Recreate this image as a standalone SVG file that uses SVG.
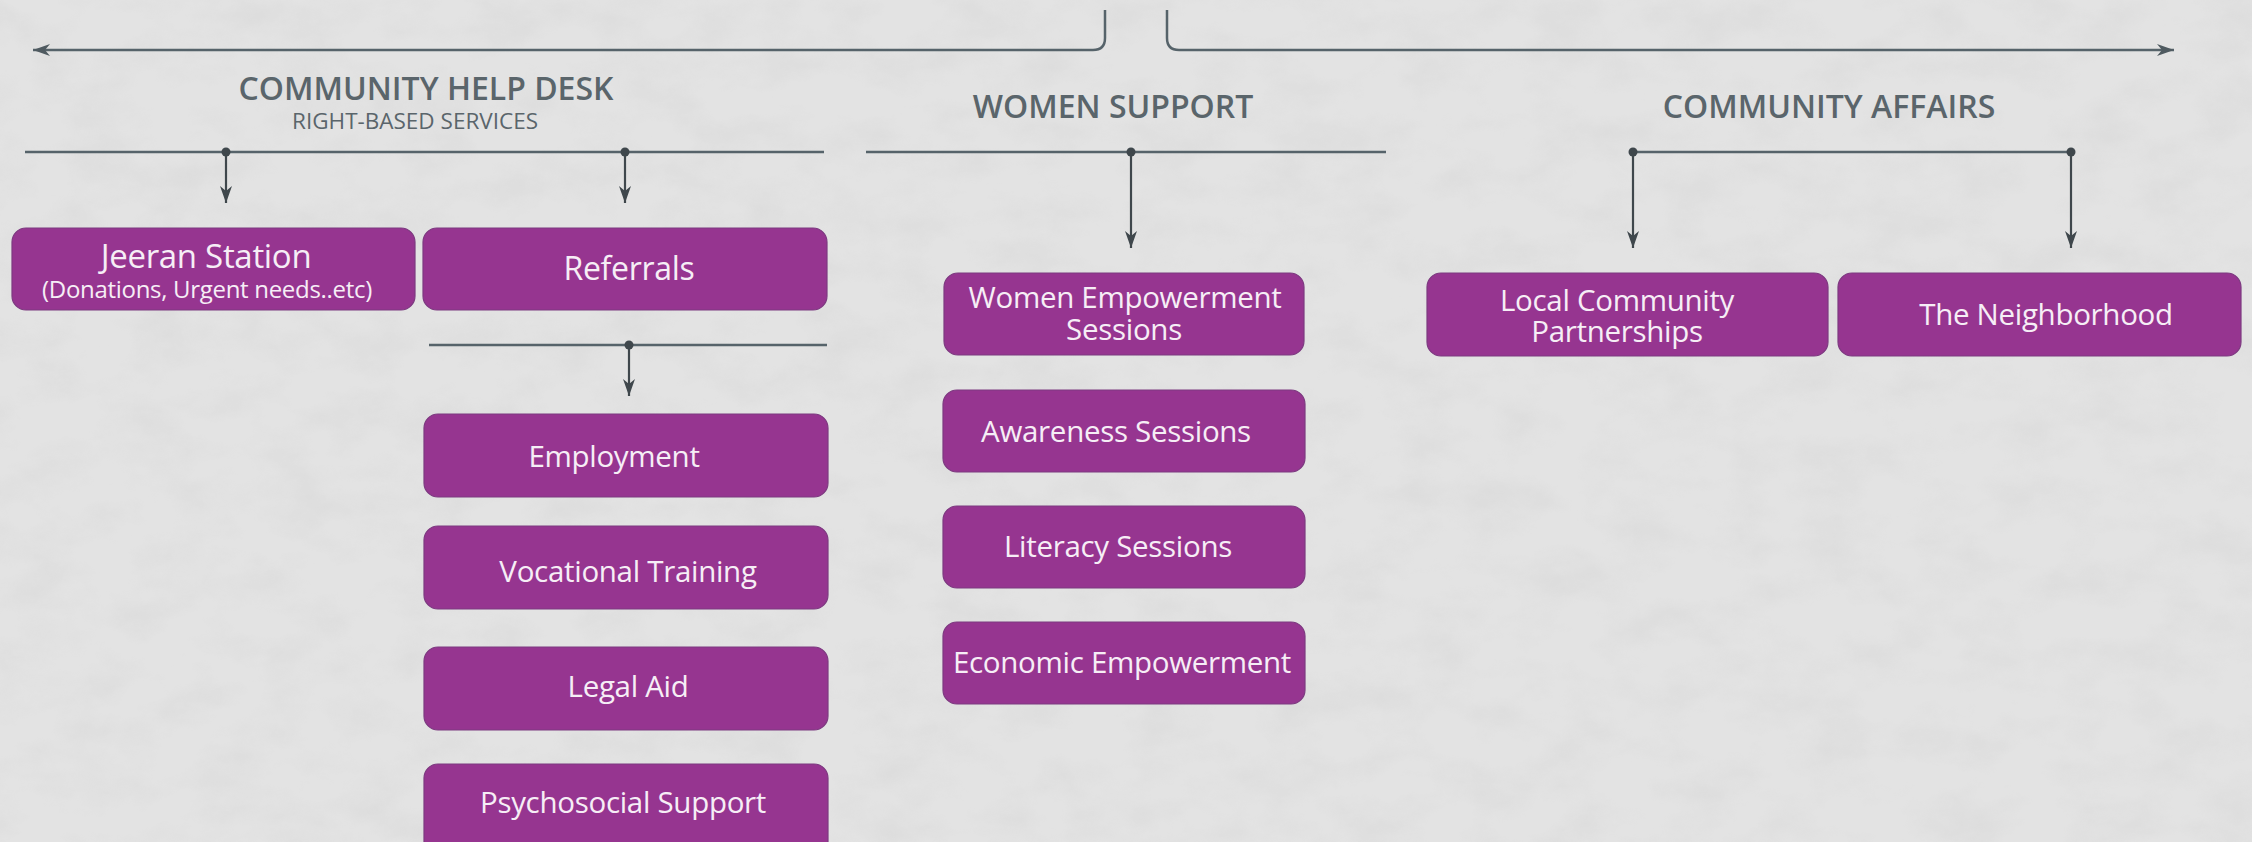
<svg xmlns="http://www.w3.org/2000/svg" width="2252" height="842" viewBox="0 0 2252 842">
<style>
.bg{fill:#e3e3e3}
.ln{fill:none;stroke:#56636a;stroke-width:2.5}
.ar{fill:none;stroke:#3f474c;stroke-width:2.2}
.dot{fill:#3f474c}
.box{fill:#963590;stroke:#7d3a80;stroke-width:1.2}
.hd{font-family:"Open Sans","Liberation Sans",sans-serif;font-weight:600;font-size:32px;fill:#5a656b;text-anchor:middle}
.sub{font-family:"Open Sans","Liberation Sans",sans-serif;font-weight:400;font-size:22.5px;fill:#5a656b;text-anchor:middle}
.t{font-family:"Open Sans","Liberation Sans",sans-serif;font-size:29.5px;letter-spacing:-0.3px;fill:#f6eef6;text-anchor:middle}
</style>
<defs>
<filter id="tex" x="0" y="0" width="100%" height="100%">
<feTurbulence type="fractalNoise" baseFrequency="0.015 0.025" numOctaves="5" seed="7" result="n"/>
<feColorMatrix type="matrix" values="0 0 0 0 0.5  0 0 0 0 0.5  0 0 0 0 0.5  0 0 0 -1 0.6"/>
</filter>
<marker id="ah" viewBox="-1 -7 20 14" refX="17" refY="0" markerWidth="20" markerHeight="14" markerUnits="userSpaceOnUse" orient="auto">
<path d="M0,-6 L17,0 L0,6 L5,0 Z" fill="#3f474c"/>
</marker>
<marker id="ah2" viewBox="-1 -7 20 14" refX="17" refY="0" markerWidth="20" markerHeight="14" markerUnits="userSpaceOnUse" orient="auto">
<path d="M0,-6 L17,0 L0,6 L5,0 Z" fill="#4f5a60"/>
</marker>
</defs>
<rect class="bg" x="0" y="0" width="2252" height="842"/>
<rect x="0" y="0" width="2252" height="842" filter="url(#tex)" opacity="0.3"/>

<g id="connectors">
<path class="ln" d="M1105,10 V38 Q1105,50 1093,50 H33" marker-end="url(#ah2)"/>
<path class="ln" d="M1167,10 V38 Q1167,50 1179,50 H2174" marker-end="url(#ah2)"/>
<line class="ln" x1="25" y1="152" x2="824" y2="152"/>
<circle class="dot" cx="226" cy="152" r="4.5"/>
<circle class="dot" cx="625" cy="152" r="4.5"/>
<line class="ar" x1="226" y1="152" x2="226" y2="203" marker-end="url(#ah)"/>
<line class="ar" x1="625" y1="152" x2="625" y2="203" marker-end="url(#ah)"/>
<line class="ln" x1="429" y1="345" x2="827" y2="345"/>
<circle class="dot" cx="629" cy="345" r="4.5"/>
<line class="ar" x1="629" y1="345" x2="629" y2="396" marker-end="url(#ah)"/>
<line class="ln" x1="866" y1="152" x2="1386" y2="152"/>
<circle class="dot" cx="1131" cy="152" r="4.5"/>
<line class="ar" x1="1131" y1="152" x2="1131" y2="248" marker-end="url(#ah)"/>
<line class="ln" x1="1633" y1="152" x2="2071" y2="152"/>
<circle class="dot" cx="1633" cy="152" r="4.5"/>
<circle class="dot" cx="2071" cy="152" r="4.5"/>
<line class="ar" x1="1633" y1="152" x2="1633" y2="248" marker-end="url(#ah)"/>
<line class="ar" x1="2071" y1="152" x2="2071" y2="248" marker-end="url(#ah)"/>
</g>

<g id="head-community-help-desk">
<text class="hd" x="426" y="100">COMMUNITY HELP DESK</text>
<text class="sub" x="415" y="129">RIGHT-BASED SERVICES</text>
</g>
<g id="head-women-support"><text class="hd" x="1113" y="118">WOMEN SUPPORT</text></g>
<g id="head-community-affairs"><text class="hd" x="1829" y="118">COMMUNITY AFFAIRS</text></g>

<g id="node-jeeran">
<rect class="box" x="12" y="228" width="403" height="82" rx="14"/>
<text class="t"><tspan x="206" y="268" style="font-size:33px">Jeeran Station</tspan><tspan x="207" y="298" style="font-size:24px">(Donations, Urgent needs..etc)</tspan></text>
</g>
<g id="node-referrals">
<rect class="box" x="423" y="228" width="404" height="82" rx="14"/>
<text class="t" x="629" y="280" style="font-size:32px">Referrals</text>
</g>
<g id="node-employment">
<rect class="box" x="424" y="414" width="404" height="83" rx="14"/>
<text class="t" x="614" y="467">Employment</text>
</g>
<g id="node-vocational">
<rect class="box" x="424" y="526" width="404" height="83" rx="14"/>
<text class="t" x="628" y="582">Vocational Training</text>
</g>
<g id="node-legal">
<rect class="box" x="424" y="647" width="404" height="83" rx="14"/>
<text class="t" x="628" y="697">Legal Aid</text>
</g>
<g id="node-psychosocial">
<rect class="box" x="424" y="764" width="404" height="95" rx="14"/>
<text class="t" x="623" y="813">Psychosocial Support</text>
</g>
<g id="node-women-empowerment">
<rect class="box" x="944" y="273" width="360" height="82" rx="14"/>
<text class="t"><tspan x="1125" y="308">Women Empowerment</tspan><tspan x="1124" y="340">Sessions</tspan></text>
</g>
<g id="node-awareness">
<rect class="box" x="943" y="390" width="362" height="82" rx="14"/>
<text class="t" x="1116" y="442">Awareness Sessions</text>
</g>
<g id="node-literacy">
<rect class="box" x="943" y="506" width="362" height="82" rx="14"/>
<text class="t" x="1118" y="557">Literacy Sessions</text>
</g>
<g id="node-economic">
<rect class="box" x="943" y="622" width="362" height="82" rx="14"/>
<text class="t" x="1122" y="673">Economic Empowerment</text>
</g>
<g id="node-local-community">
<rect class="box" x="1427" y="273" width="401" height="83" rx="14"/>
<text class="t"><tspan x="1617" y="311">Local Community</tspan><tspan x="1617" y="342">Partnerships</tspan></text>
</g>
<g id="node-neighborhood">
<rect class="box" x="1838" y="273" width="403" height="83" rx="14"/>
<text class="t" x="2046" y="325">The Neighborhood</text>
</g>
</svg>
